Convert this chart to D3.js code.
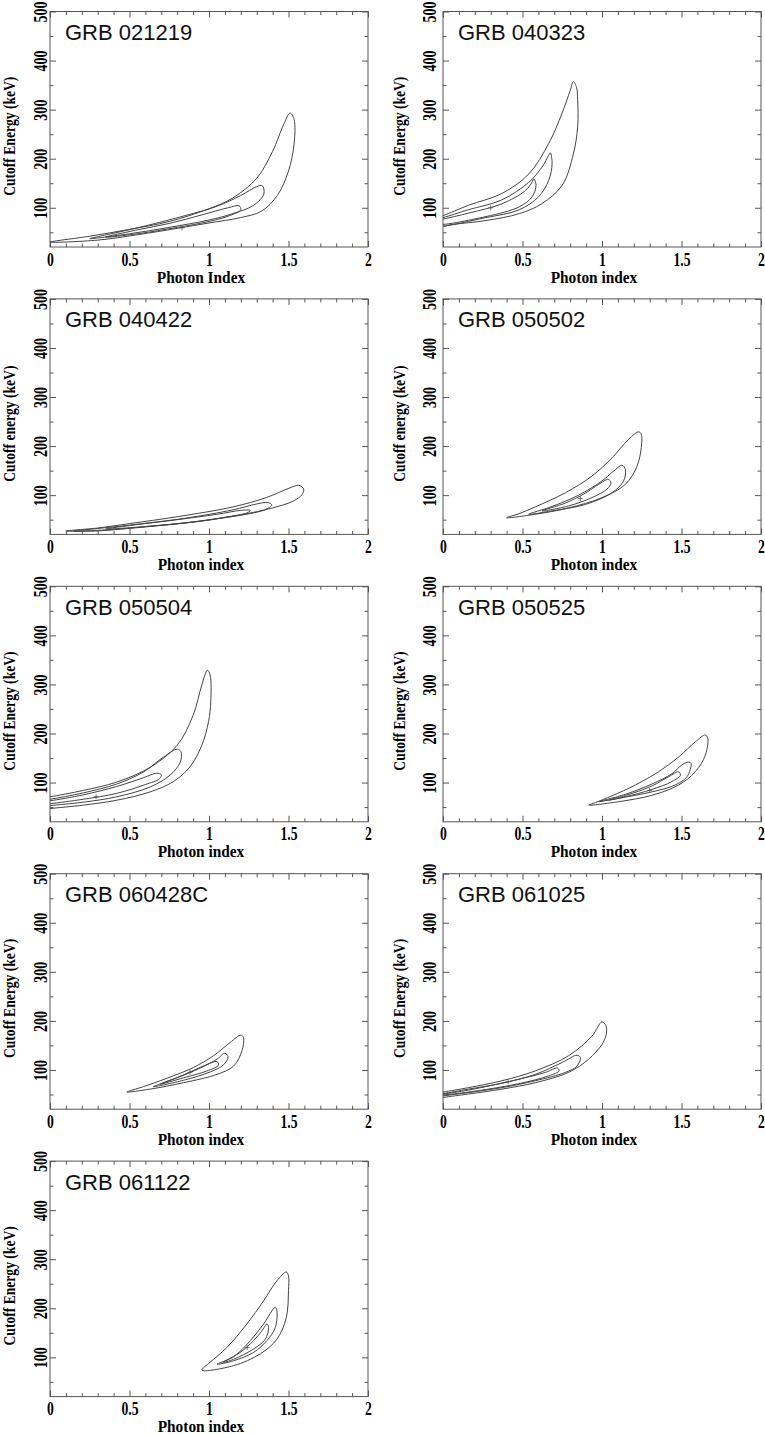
<!DOCTYPE html>
<html>
<head>
<meta charset="utf-8">
<script src="https://cdn.jsdelivr.net/npm/d3@7"></script>
<style>
  html, body { margin: 0; padding: 0; background: #fff; }
  svg { display: block; }
</style>
</head>
<body>
<div id="chart"></div>
<script>
// ---------- DATA ----------
const grbNames = ["GRB 021219", "GRB 040323", "GRB 040422", "GRB 050502", "GRB 050504",
                  "GRB 050525", "GRB 060428C", "GRB 061025", "GRB 061122"];
const xTitles = ["Photon Index", "Photon index", "Photon index", "Photon index", "Photon index",
                 "Photon index", "Photon index", "Photon index", "Photon index"];
const yTitles = ["Cutoff Energy (keV)", "Cutoff Energy (keV)", "Cutoff energy (keV)", "Cutoff energy (keV)",
                 "Cutoff Energy (keV)", "Cutoff Energy (keV)", "Cutoff Energy (keV)", "Cutoff Energy (keV)",
                 "Cutoff Energy (keV)"];
const xDomain = [0, 2];
const yDomain = [20, 500];
const xMajorTicks = [0, 0.5, 1, 1.5, 2];
const xMinorTicks = [0.1, 0.2, 0.3, 0.4, 0.6, 0.7, 0.8, 0.9, 1.1, 1.2, 1.3, 1.4, 1.6, 1.7, 1.8, 1.9];
const yMajorTicks = [100, 200, 300, 400, 500];
const yMinorTicks = [50, 150, 250, 350, 450];

// contour levels: [outer, middle, inner], each a closed loop of [photon index, cutoff energy]
const contour021219 = [
  [[0.0,30],[0.3,34],[0.55,45],[0.8,58],[1.0,69],[1.2,80],[1.33,93],[1.43,125],[1.5,175],[1.535,230],[1.535,280],[1.51,293],[1.47,270],[1.4,215],[1.3,160],[1.15,120],[1.0,98],[0.75,72],[0.5,56],[0.25,42]],
  [[0.25,37],[0.5,47],[0.75,60],[1.0,75],[1.15,88],[1.28,105],[1.345,128],[1.335,145],[1.3,143],[1.2,125],[1.05,103],[0.85,84],[0.6,63],[0.4,48]],
  [[0.35,40],[0.55,47],[0.8,60],[1.0,72],[1.13,84],[1.2,96],[1.19,104],[1.12,100],[0.95,85],[0.75,68],[0.55,55]]
];
const contour040323 = [
  [[-0.05,61],[0.06,66],[0.27,74],[0.48,88],[0.62,108],[0.75,146],[0.82,210],[0.847,265],[0.847,320],[0.84,345],[0.82,357],[0.8,339],[0.748,292],[0.665,231],[0.54,169],[0.37,129],[0.16,105],[0.0,84],[-0.05,80]],
  [[-0.05,64],[0.27,80],[0.48,96],[0.6,122],[0.665,156],[0.686,190],[0.675,212],[0.665,207],[0.623,183],[0.54,152],[0.37,116],[0.16,96],[0.0,80],[-0.05,77]],
  [[-0.05,67],[0.27,82],[0.48,102],[0.56,122],[0.585,146],[0.57,159],[0.56,152],[0.518,135],[0.37,108],[0.16,89],[0.0,77],[-0.05,74]]
];
const contour040422 = [
  [[0.1,27],[0.3,27],[0.6,36],[0.95,47],[1.2,60],[1.4,74],[1.53,88],[1.585,101],[1.595,113],[1.565,120],[1.51,115],[1.36,95],[1.15,76],[0.8,56],[0.5,42],[0.3,33]],
  [[0.15,27],[0.4,30],[0.75,40],[1.05,52],[1.25,62],[1.35,70],[1.395,80],[1.37,85],[1.3,82],[1.15,70],[0.85,53],[0.5,39],[0.3,32]],
  [[0.35,31],[0.6,36],[0.9,45],[1.1,55],[1.24,64],[1.26,69],[1.2,69],[1.05,61],[0.8,50],[0.55,40]]
];
const contour050502 = [
  [[0.4,54],[0.58,61],[0.79,74],[1.0,95],[1.147,122],[1.22,159],[1.247,197],[1.247,224],[1.23,229],[1.168,214],[1.063,176],[0.937,139],[0.77,105],[0.58,76],[0.476,62]],
  [[0.539,61],[0.686,68],[0.895,81],[1.063,105],[1.136,129],[1.147,152],[1.126,161],[1.084,152],[1.0,129],[0.853,100],[0.686,77]],
  [[0.623,68],[0.79,78],[0.937,95],[1.03,112],[1.057,125],[1.04,132],[0.979,122],[0.895,104],[0.77,84]]
];
const contour050504 = [
  [[-0.05,45],[0.0,47],[0.21,54],[0.42,64],[0.63,81],[0.776,102],[0.88,132],[0.955,176],[0.997,224],[1.011,265],[1.007,319],[0.99,329],[0.955,299],[0.9,237],[0.8,176],[0.63,131],[0.42,101],[0.21,84],[0.0,71],[-0.05,69]],
  [[-0.05,51],[0.0,53],[0.21,60],[0.42,71],[0.63,91],[0.755,115],[0.82,142],[0.823,163],[0.8,168],[0.714,152],[0.59,122],[0.42,97],[0.21,79],[0.0,66],[-0.05,64]],
  [[-0.05,56],[0.0,57],[0.21,66],[0.42,78],[0.6,96],[0.69,108],[0.7,116],[0.67,119],[0.59,110],[0.42,92],[0.21,75],[0.0,63],[-0.05,62]]
];
const contour050525 = [
  [[0.916,54],[1.105,61],[1.314,74],[1.482,95],[1.587,122],[1.65,156],[1.665,190],[1.65,197],[1.587,183],[1.482,152],[1.356,122],[1.21,95],[1.063,73],[0.958,59]],
  [[0.98,61],[1.105,68],[1.314,81],[1.46,95],[1.535,112],[1.56,139],[1.545,142],[1.503,136],[1.44,118],[1.314,97],[1.147,76]],
  [[1.042,64],[1.147,71],[1.314,86],[1.44,102],[1.493,115],[1.482,122],[1.42,112],[1.314,93],[1.19,78]]
];
const contour060428C = [
  [[0.483,55],[0.63,61],[0.84,74],[1.05,91],[1.155,108],[1.207,139],[1.217,166],[1.2,171],[1.133,156],[1.028,129],[0.902,105],[0.735,83],[0.588,66]],
  [[0.65,66],[0.84,79],[1.007,96],[1.09,110],[1.12,127],[1.1,134],[1.05,122],[0.945,104],[0.8,84]],
  [[0.693,71],[0.84,84],[0.987,98],[1.06,110],[1.05,117],[0.965,108],[0.84,90]]
];
const contour061025 = [
  [[-0.05,42],[0.0,44],[0.161,51],[0.371,61],[0.58,74],[0.79,95],[0.916,122],[1.0,152],[1.027,173],[1.025,190],[1.0,198],[0.937,169],[0.79,129],[0.58,98],[0.371,78],[0.161,64],[0.0,55],[-0.05,53]],
  [[-0.05,45],[0.0,47],[0.371,64],[0.58,78],[0.77,95],[0.843,108],[0.864,125],[0.843,130],[0.748,115],[0.58,91],[0.371,73],[0.161,61],[0.0,52],[-0.05,51]],
  [[-0.05,48],[0.0,49],[0.161,55],[0.476,72],[0.665,88],[0.73,98],[0.72,104],[0.644,95],[0.476,81],[0.161,59],[0.0,51],[-0.05,50]]
];
const contour061122 = [
  [[0.955,74],[1.154,83],[1.322,107],[1.427,137],[1.486,181],[1.5,236],[1.5,266],[1.486,274],[1.427,256],[1.343,215],[1.238,168],[1.112,120],[1.007,90]],
  [[1.05,86],[1.154,93],[1.28,110],[1.364,134],[1.417,161],[1.427,195],[1.417,202],[1.343,168],[1.26,134],[1.154,101]],
  [[1.09,90],[1.154,96],[1.28,117],[1.354,137],[1.375,161],[1.364,168],[1.333,154],[1.28,134],[1.196,110]]
];
const contours = [contour021219, contour040323, contour040422, contour050502, contour050504,
                  contour050525, contour060428C, contour061025, contour061122];
const bestFits = [[0.83,59],[0.3,100],null,[0.864,93],[0.29,71],[1.3,84],[0.88,95],[0.41,76],[1.24,120]];

// ---------- LAYOUT ----------
const W = 765, H = 1434;
const colLeft = [50, 443];
const plotW = 318, plotH = 235.5;
const rowTop0 = 11.5, rowStep = 287.4;
const yLabelOffset = [3.5, 7.5];
const yTitleX = [14.5, 405];

const svg = d3.select("#chart").append("svg")
  .attr("width", W).attr("height", H)
  .attr("viewBox", `0 0 ${W} ${H}`);
svg.append("rect").attr("width", W).attr("height", H).attr("fill", "#fff");

const serif = "'Liberation Serif', 'Times New Roman', Times, serif";
const sans = "'Liberation Sans', Arial, Helvetica, sans-serif";
const axisColor = "#555";
const lineColor = "#444";

grbNames.forEach((name, i) => {
  const col = i % 2, row = Math.floor(i / 2);
  const left = colLeft[col];
  const top = rowTop0 + row * rowStep;
  const bottom = top + plotH, right = left + plotW;

  const x = d3.scaleLinear().domain(xDomain).range([left, right]);
  const y = d3.scaleLinear().domain(yDomain).range([bottom, top]);

  const g = svg.append("g").attr("class", "panel");

  const clipId = "clip" + i;
  g.append("clipPath").attr("id", clipId)
    .append("rect").attr("x", left).attr("y", top).attr("width", plotW).attr("height", plotH);

  // contours
  const line = d3.line().x(d => x(d[0])).y(d => y(d[1]))
    .curve(d3.curveCatmullRomClosed.alpha(0.5));
  const cg = g.append("g").attr("clip-path", `url(#${clipId})`);
  cg.selectAll("path.contour").data(contours[i]).join("path")
    .attr("class", "contour")
    .attr("d", line)
    .attr("fill", "none")
    .attr("stroke", lineColor)
    .attr("stroke-width", 1);

  // best fit marker
  const bf = bestFits[i];
  if (bf) {
    const px = x(bf[0]), py = y(bf[1]);
    cg.append("path")
      .attr("d", `M${px - 2.5},${py}H${px + 2.5}M${px},${py - 2.5}V${py + 2.5}`)
      .attr("stroke", "#555").attr("stroke-width", 0.8);
  }

  // ticks (inward, mirrored on all sides)
  const drawAxis = (axisGen, transform) => {
    const a = g.append("g").attr("transform", transform).call(axisGen);
    a.select(".domain").remove();
    a.selectAll("line").attr("stroke", axisColor);
    return a;
  };
  const bAxis = drawAxis(d3.axisBottom(x).tickValues(xMajorTicks).tickSize(-6).tickFormat(d => String(d)),
    `translate(0,${bottom})`);
  bAxis.selectAll("text")
    .attr("y", 0).attr("dy", null)
    .attr("transform", "translate(0,18.5) scale(0.76,1)")
    .attr("font-family", serif).attr("font-weight", "bold").attr("font-size", 18)
    .attr("fill", "#000").attr("text-anchor", "middle");
  drawAxis(d3.axisBottom(x).tickValues(xMinorTicks).tickSize(-3.5).tickFormat(""), `translate(0,${bottom})`);
  drawAxis(d3.axisTop(x).tickValues(xMajorTicks).tickSize(-6).tickFormat(""), `translate(0,${top})`);
  drawAxis(d3.axisTop(x).tickValues(xMinorTicks).tickSize(-3.5).tickFormat(""), `translate(0,${top})`);

  const lAxis = drawAxis(d3.axisLeft(y).tickValues(yMajorTicks).tickSize(-6).tickFormat(d => String(d)),
    `translate(${left},0)`);
  lAxis.selectAll("text")
    .attr("x", 0).attr("dy", null).attr("y", 0)
    .attr("transform", `translate(${-yLabelOffset[col]},0) rotate(-90) scale(0.78,1)`)
    .attr("font-family", serif).attr("font-weight", "bold").attr("font-size", 18)
    .attr("fill", "#000").attr("text-anchor", "middle");
  drawAxis(d3.axisLeft(y).tickValues(yMinorTicks).tickSize(-3.5).tickFormat(""), `translate(${left},0)`);
  drawAxis(d3.axisRight(y).tickValues(yMajorTicks).tickSize(-6).tickFormat(""), `translate(${right},0)`);
  drawAxis(d3.axisRight(y).tickValues(yMinorTicks).tickSize(-3.5).tickFormat(""), `translate(${right},0)`);

  // frame
  g.append("rect")
    .attr("x", left).attr("y", top).attr("width", plotW).attr("height", plotH)
    .attr("fill", "none").attr("stroke", axisColor).attr("stroke-width", 1);

  // axis titles
  g.append("text")
    .attr("transform", `translate(${left + plotW / 2 - 8},${bottom + 35.5}) scale(0.96,1)`)
    .attr("text-anchor", "middle")
    .attr("font-family", serif).attr("font-weight", "bold").attr("font-size", 16)
    .attr("fill", "#000")
    .text(xTitles[i]);
  g.append("text")
    .attr("transform", `translate(${yTitleX[col]},${top + plotH / 2 + 7}) rotate(-90) scale(0.85,1)`)
    .attr("text-anchor", "middle")
    .attr("font-family", serif).attr("font-weight", "bold").attr("font-size", 16)
    .attr("fill", "#000")
    .text(yTitles[i]);

  // GRB name
  g.append("text")
    .attr("x", left + 15).attr("y", top + 28.5)
    .attr("font-family", sans).attr("font-size", 22)
    .attr("fill", "#111")
    .text(name);
});
</script>
</body>
</html>
